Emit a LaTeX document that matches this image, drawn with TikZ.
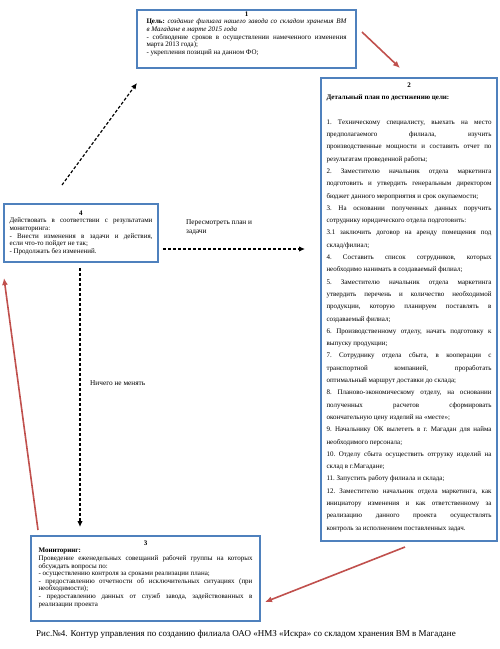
\documentclass[tikz,border=0pt]{standalone}
\usepackage{fontspec}
\setmainfont{Liberation Serif}
\usepackage{tikz}
\usetikzlibrary{positioning,calc,arrows.meta}
\definecolor{boxblue}{RGB}{79,129,189}
\definecolor{arrowred}{RGB}{192,80,77}
\newcommand\boxfont{\fontsize{7}{7.6}\selectfont\frenchspacing\hyphenpenalty=10000 \exhyphenpenalty=10000 \tolerance=10000 }
\newcommand\planfont{\fontsize{7}{12.3}\selectfont\frenchspacing\hyphenpenalty=10000 \exhyphenpenalty=10000 \tolerance=10000 }
\tikzset{
  box/.style={draw=boxblue, line width=2pt, rectangle, inner sep=0pt, anchor=north west},
  boxtext/.style={inner sep=0pt, anchor=north, align=justify, font=\boxfont},
  redarrow/.style={draw=arrowred, line width=1.6pt, -{Latex[length=7pt,width=6pt]}},
  dasharrow/.style={draw=black, line width=1.2pt, dash pattern=on 3pt off 2pt, -{Latex[length=6pt,width=5.5pt]}},
  note/.style={inner sep=0pt, align=left, font=\fontsize{7.3}{9}\selectfont}
}
\begin{document}
\begin{tikzpicture}[x=1pt,y=-1pt]
    \useasboundingbox (0,0) rectangle (499,649);

    % boxes
    \node [box, minimum width=219pt, minimum height=58pt] (goal) at (136,9) {};
    \node [box, minimum width=176pt, minimum height=463pt] (plan) at (320,77) {};
    \node [box, minimum width=229pt, minimum height=85pt] (monitor) at (30,535) {};
    \node [box, minimum width=154pt, minimum height=58pt] (act) at (3,203) {};

    % texts of the boxes
    \node [boxtext, text width=200pt, below=2.5pt of goal.north] (goaltext) {%
      \centerline{\textbf{1}}
      \textbf{Цель:} \textit{создание филиала нашего завода со складом хранения ВМ\linebreak
      в Магадане в марте 2015 года}\par
      - соблюдение сроков в осуществлении намеченного изменения\linebreak
      марта 2013 года);\par
      - укрепления позиций на данном ФО;};

    \node [boxtext, font=\planfont, text width=165pt, below=5.5pt of plan.north] (plantext) {%
      \centerline{\textbf{2}}
      \textbf{Детальный план по достижению цели:}\par
      \mbox{}\par
      1. Техническому специалисту, выехать на место\linebreak
      предполагаемого филиала, изучить\linebreak
      производственные мощности и составить отчет по\linebreak
      результатам проведенной работы;\par
      2. Заместителю начальник отдела маркетинга\linebreak
      подготовить и утвердить генеральным директором\linebreak
      бюджет данного мероприятия и срок окупаемости;\par
      3. На основании полученных данных поручить\linebreak
      сотруднику юридического отдела подготовить:\par
      3.1 заключить договор на аренду помещения под\linebreak
      склад/филиал;\par
      4. Составить список сотрудников, которых\linebreak
      необходимо нанимать в создаваемый филиал;\par
      5. Заместителю начальник отдела маркетинга\linebreak
      утвердить перечень и количество необходимой\linebreak
      продукции, которую планируем поставлять в\linebreak
      создаваемый филиал;\par
      6. Производственному отделу, начать подготовку к\linebreak
      выпуску продукции;\par
      7. Сотруднику отдела сбыта, в кооперации с\linebreak
      транспортной компанией, проработать\linebreak
      оптимальный маршрут доставки до склада;\par
      8. Планово-экономическому отделу, на основании\linebreak
      полученных расчетов сформировать\linebreak
      окончательную цену изделий на «месте»;\par
      9. Начальнику ОК вылететь в г. Магадан для найма\linebreak
      необходимого персонала;\par
      10. Отделу сбыта осуществить отгрузку изделий на\linebreak
      склад в г.Магадане;\par
      11. Запустить работу филиала и склада;\par
      12. Заместителю начальник отдела маркетинга, как\linebreak
      инициатору изменения и как ответственному за\linebreak
      реализацию данного проекта осуществлять\linebreak
      контроль за исполнением поставленных задач.};

    \node [boxtext, text width=214pt, below=5.5pt of monitor.north] (monitortext) {%
      \centerline{\textbf{3}}
      \textbf{Мониторинг:}\par
      Проведение еженедельных совещаний рабочей группы на которых\linebreak
      обсуждать вопросы по:\par
      - осуществлению контроля за сроками реализации плана;\par
      - предоставлению отчетности об исключительных ситуациях (при\linebreak
      необходимости);\par
      - предоставлению данных от служб завода, задействованных в\linebreak
      реализации проекта};

    \node [boxtext, text width=143pt, below=7.5pt of act.north] (acttext) {%
      \centerline{\textbf{4}}
      Действовать в соответствии с результатами\linebreak
      мониторинга:\par
      - Внести изменения в задачи и действия,\linebreak
      если что-то пойдет не так;\par
      - Продолжать без изменений.};

    % ends of the connectors
    \coordinate (goalout) at (362,32);
    \coordinate (planin) at (400,68);
    \coordinate (planout) at (405,547);
    \coordinate (monitorin) at (265,602);
    \coordinate (monitorout) at (38,530);
    \coordinate (actin) at (4,278);
    \coordinate (actup) at (62,185);
    \coordinate (goalin) at (137,83);
    \coordinate (actright) at (163,249);
    \coordinate (planleft) at (305,249);
    \coordinate (actdown) at (80,268);
    \coordinate (monitortop) at (80,527);

    % red arrows round the loop
    \draw [redarrow] (goalout) -- (planin);
    \draw [redarrow] (planout) -- (monitorin);
    \draw [redarrow] (monitorout) -- (actin);

    % dashed arrows out of box 4
    \draw [dasharrow] (actup) -- (goalin);
    \draw [dasharrow] (actright) -- (planleft);
    \draw [dasharrow] (actdown) -- (monitortop);

    \node [note, anchor=north west] (replan) at (186,220) {Пересмотреть план и\\задачи};
    \node [note, anchor=west] (keep) at (90,383) {Ничего не менять};

    % caption
    \node [font=\fontsize{9}{10}\selectfont, inner sep=0pt] (caption) at (246,634)
      {Рис.№4. Контур управления по созданию филиала ОАО «НМЗ «Искра» со складом хранения ВМ в Магадане};
\end{tikzpicture}
\end{document}
